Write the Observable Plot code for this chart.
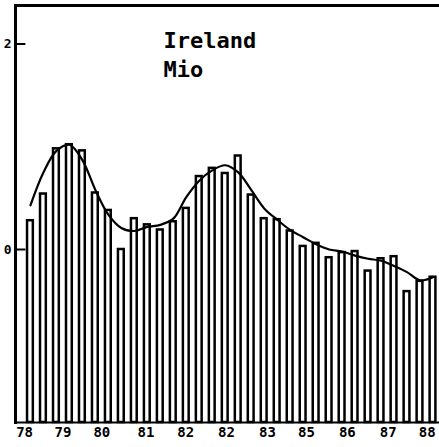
<!DOCTYPE html>
<html><head><meta charset="utf-8">
<script src="https://cdn.jsdelivr.net/npm/d3@7"></script>
<script src="https://cdn.jsdelivr.net/npm/@observablehq/plot@0.6"></script>
<style>html,body{margin:0;padding:0;background:#fff;} svg{display:block}</style>
</head><body><div id="chart"></div>
<script>
// Quarterly-ish values (Mio)
const barValues = [0.28, 0.54, 0.98, 1.02, 0.96, 0.55, 0.38, 0.00, 0.30, 0.24, 0.19, 0.27, 0.40, 0.71, 0.79, 0.74,
                   0.91, 0.53, 0.30, 0.29, 0.18, 0.03, 0.06, -0.08, -0.03, -0.02, -0.21, -0.09, -0.07, -0.41, -0.31, -0.27];
const trendValues = [0.43, 0.75, 0.96, 1.02, 0.87, 0.58, 0.34, 0.21, 0.18, 0.22, 0.24, 0.30, 0.51, 0.67, 0.77, 0.82,
                     0.75, 0.58, 0.40, 0.29, 0.19, 0.12, 0.05, 0.00, -0.02, -0.06, -0.09, -0.11, -0.16, -0.22, -0.30, -0.27];
const tickLabels = ["78", "79", "80", "81", "82", "82", "83", "85", "86", "87", "88"];
const tickPositions = [0.05, 3.0, 6.0, 9.4, 12.45, 15.6, 18.75, 21.75, 24.9, 28.05, 31.05];
const yTicks = [0, 2];
const titleLines = ["Ireland", "Mio"];

const xDomain = [-0.65, 32];
const yDomain = [-1.684, 2.375];
const bars = barValues.map((v, i) => ({i, v}));
const trend = trendValues.map((v, i) => ({c: i + 0.5, v}));

const chart = Plot.plot({
  width: 439, height: 447,
  marginLeft: 15, marginRight: 0, marginTop: 5, marginBottom: 25,
  x: {type: "linear", domain: xDomain, axis: null, label: null},
  y: {domain: yDomain, axis: null, label: null},
  style: {fontFamily: "'DejaVu Sans Mono', monospace", fontWeight: "bold", background: "#fff", color: "black"},
  marks: [
    Plot.rectY(bars, {x1: d => d.i, x2: d => d.i + 1, y1: yDomain[0], y2: "v",
      insetLeft: 3.6, insetRight: 3.6, fill: "white", stroke: "black", strokeWidth: 2.5}),
    Plot.line(trend, {x: "c", y: "v", curve: "catmull-rom", stroke: "black", strokeWidth: 2.2}),
    Plot.frame({anchor: "left", strokeWidth: 3}),
    Plot.frame({anchor: "top", strokeWidth: 3}),
    Plot.frame({anchor: "bottom", strokeWidth: 2}),
    Plot.ruleY(yTicks, {x1: xDomain[0], x2: xDomain[0] + 0.8, strokeWidth: 2}),
    Plot.axisY({ticks: yTicks, tickFormat: d => String(d), label: null, tickSize: 0, tickPadding: 4,
      fontSize: 13, fontWeight: "bold"}),
    Plot.axisX({ticks: tickPositions, tickFormat: d => tickLabels[tickPositions.indexOf(d)], label: null,
      tickSize: 0, tickPadding: 5, fontSize: 14, fontWeight: "bold"}),
    Plot.text([titleLines.join("\n")], {frameAnchor: "top-left", dx: 148, dy: 22, textAnchor: "start",
      lineAnchor: "top", lineHeight: 1.32, fontSize: 22, fontWeight: "bold"})
  ]
});
document.getElementById("chart").appendChild(chart);
</script>
</body></html>
